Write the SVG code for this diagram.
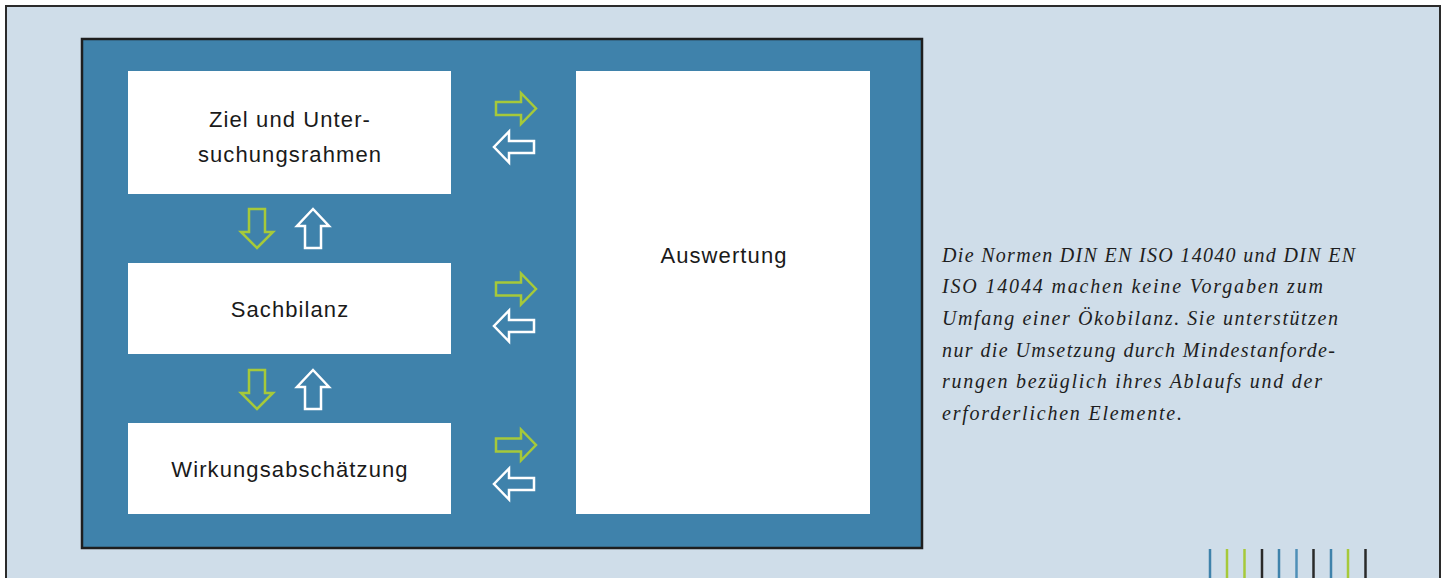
<svg xmlns="http://www.w3.org/2000/svg" width="1448" height="578" viewBox="0 0 1448 578">
<style>
.box{fill:#ffffff}
.lbl{font-family:"Liberation Sans",Arial,sans-serif;font-size:22px;letter-spacing:1.1px;fill:#1a1a1a;text-anchor:middle}
.ga{fill:none;stroke:#a6c93a;stroke-width:2.5;stroke-linejoin:miter}
.wa{fill:none;stroke:#ffffff;stroke-width:2.5;stroke-linejoin:miter}
.note{font-family:"Liberation Serif","Times New Roman",serif;font-style:italic;font-size:20px;fill:#1e1e1e}
.bar{stroke-width:2.5}
</style>
<defs>
<path id="ar" d="M0,-6.5 H25 V-15.5 L40,0 L25,15.5 V6.5 H0 Z"/>
<path id="al" d="M40,-6 H15 V-15.5 L0,0 L15,15.5 V6 H40 Z"/>
<path id="ad" d="M-8,0 V23 H-16 L0,39 L16,23 H8 V0 Z"/>
<path id="au" d="M-8,39 V17 H-16 L0,0 L16,17 H8 V39 Z"/>
</defs>
<rect x="0" y="0" width="1448" height="578" fill="#ffffff"/>
<rect x="6" y="6" width="1434" height="580" fill="#cfdde9" stroke="#2b2b2b" stroke-width="2"/>
<rect x="82" y="39" width="840" height="509" fill="#3f82ab" stroke="#1e1e1e" stroke-width="2.5"/>
<g id="ziel"><rect class="box" x="128" y="71" width="323" height="123"/>
<text class="lbl" x="290" y="127">Ziel und Unter-</text>
<text class="lbl" x="290" y="162">suchungsrahmen</text></g>
<g id="sachbilanz"><rect class="box" x="128" y="263" width="323" height="91"/>
<text class="lbl" x="290" y="317">Sachbilanz</text></g>
<g id="wirkung"><rect class="box" x="128" y="423" width="323" height="91"/>
<text class="lbl" x="290" y="477">Wirkungsabschätzung</text></g>
<g id="auswertung"><rect class="box" x="576" y="71" width="294" height="443"/>
<text class="lbl" x="724" y="263">Auswertung</text></g>
<g id="connectors">
<use href="#ar" class="ga" x="496" y="108.5"/>
<use href="#al" class="wa" x="494" y="147"/>
<use href="#ar" class="ga" x="496" y="289"/>
<use href="#al" class="wa" x="494" y="326"/>
<use href="#ar" class="ga" x="496" y="445"/>
<use href="#al" class="wa" x="494" y="484"/>
<use href="#ad" class="ga" x="257" y="209"/>
<use href="#au" class="wa" x="313" y="209"/>
<use href="#ad" class="ga" x="257" y="370"/>
<use href="#au" class="wa" x="313" y="370"/>
</g>
<g id="note">
<text class="note" x="942" y="262" textLength="413" lengthAdjust="spacing">Die Normen DIN EN ISO 14040 und DIN EN</text>
<text class="note" x="942" y="293" textLength="381" lengthAdjust="spacing">ISO 14044 machen keine Vorgaben zum</text>
<text class="note" x="942" y="325" textLength="396" lengthAdjust="spacing">Umfang einer Ökobilanz. Sie unterstützen</text>
<text class="note" x="942" y="357" textLength="393" lengthAdjust="spacing">nur die Umsetzung durch Mindestanforde-</text>
<text class="note" x="942" y="388" textLength="380" lengthAdjust="spacing">rungen bezüglich ihres Ablaufs und der</text>
<text class="note" x="942" y="420" textLength="240" lengthAdjust="spacing">erforderlichen Elemente.</text>
</g>
<g id="bars">
<line class="bar" x1="1210" y1="549" x2="1210" y2="578" stroke="#3f82ab"/>
<line class="bar" x1="1227" y1="549" x2="1227" y2="578" stroke="#a6c93a"/>
<line class="bar" x1="1244.5" y1="549" x2="1244.5" y2="578" stroke="#a6c93a"/>
<line class="bar" x1="1262" y1="549" x2="1262" y2="578" stroke="#2a2a2a"/>
<line class="bar" x1="1279" y1="549" x2="1279" y2="578" stroke="#3f82ab"/>
<line class="bar" x1="1296.5" y1="549" x2="1296.5" y2="578" stroke="#4f8fb7"/>
<line class="bar" x1="1313.5" y1="549" x2="1313.5" y2="578" stroke="#2a2a2a"/>
<line class="bar" x1="1331" y1="549" x2="1331" y2="578" stroke="#3f82ab"/>
<line class="bar" x1="1348" y1="549" x2="1348" y2="578" stroke="#a6c93a"/>
<line class="bar" x1="1365.5" y1="549" x2="1365.5" y2="578" stroke="#2a2a2a"/>
</g>
</svg>
